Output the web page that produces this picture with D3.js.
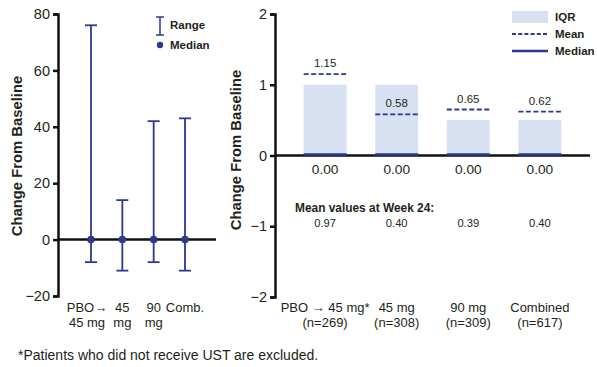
<!DOCTYPE html>
<html>
<head>
<meta charset="utf-8">
<script src="https://cdn.jsdelivr.net/npm/d3@7"></script>
<style>
  body { margin: 0; background: #fff; }
  svg { font-family: "Liberation Sans", Arial, sans-serif; }
</style>
</head>
<body>
<svg id="chart" width="597" height="367"></svg>
<script>
// left panel: range / median
const leftCats = ["PBO\u2192|45 mg", "45|mg", "90|mg", "Comb."];
const rangeMax = [76, 14, 42, 43];
const rangeMin = [-8, -11, -8, -11];
const leftMedian = [0, 0, 0, 0];
const leftTicks = [-20, 0, 20, 40, 60, 80];

// right panel: IQR / mean / median
const rightCats = ["PBO \u2192 45 mg*", "45 mg", "90 mg", "Combined"];
const rightN = ["(n=269)", "(n=308)", "(n=309)", "(n=617)"];
const iqrLow = [0, 0, 0, 0];
const iqrHigh = [1, 1, 0.5, 0.5];
const meanVals = [1.15, 0.58, 0.65, 0.62];
const medianVals = [0, 0, 0, 0];
const week24Means = [0.97, 0.40, 0.39, 0.40];
const rightTicks = [-2, -1, 0, 1, 2];

const navy = "#2b3990";
const iqrFill = "#d7e1f2";
const textCol = "#231f20";

const svg = d3.select("#chart");

// ---------- left panel ----------
const yL = d3.scaleLinear().domain([-20, 80]).range([296, 14]);
const xL = d3.scalePoint().domain(leftCats).range([91, 185]);

const gL = svg.append("g");
const axL = gL.append("g")
  .attr("transform", "translate(58,0)")
  .call(d3.axisLeft(yL).tickValues(leftTicks).tickSize(5).tickPadding(3)
    .tickFormat(d => d < 0 ? "\u2212" + Math.abs(d) : d));
axL.select(".domain").attr("stroke", "#111").attr("stroke-width", 2.5);
axL.selectAll(".tick line").attr("stroke", "#111").attr("stroke-width", 2.5);
axL.selectAll(".tick text").attr("font-size", 14.5).attr("fill", textCol)
  .attr("font-family", "Liberation Sans, Arial, sans-serif");

// zero line
gL.append("line")
  .attr("x1", 58).attr("x2", 216)
  .attr("y1", yL(0)).attr("y2", yL(0))
  .attr("stroke", "#111").attr("stroke-width", 2.5);

leftCats.forEach((c, i) => {
  const x = xL(c);
  gL.append("line").attr("x1", x).attr("x2", x)
    .attr("y1", yL(rangeMax[i])).attr("y2", yL(rangeMin[i]))
    .attr("stroke", navy).attr("stroke-width", 1.8);
  [rangeMax[i], rangeMin[i]].forEach(v => {
    gL.append("line").attr("x1", x - 6).attr("x2", x + 6)
      .attr("y1", yL(v)).attr("y2", yL(v))
      .attr("stroke", navy).attr("stroke-width", 1.8);
  });
  gL.append("circle").attr("cx", x).attr("cy", yL(leftMedian[i])).attr("r", 3.8)
    .attr("fill", navy);
  const parts = c.split("|");
  parts.forEach((p, j) => {
    gL.append("text").attr("x", x - (i === 0 ? 4 : 0)).attr("y", 312 + j * 15)
      .attr("text-anchor", "middle").attr("font-size", 13).attr("fill", textCol)
      .text(p);
  });
});

gL.append("text")
  .attr("transform", "translate(22,156) rotate(-90)")
  .attr("text-anchor", "middle").attr("font-size", 14.8).attr("font-weight", "bold")
  .attr("fill", textCol).text("Change From Baseline");

// left legend
gL.append("line").attr("x1", 160).attr("x2", 160).attr("y1", 17).attr("y2", 35)
  .attr("stroke", navy).attr("stroke-width", 1.5);
[17, 35].forEach(y => gL.append("line").attr("x1", 156).attr("x2", 164)
  .attr("y1", y).attr("y2", y).attr("stroke", navy).attr("stroke-width", 1.5));
gL.append("circle").attr("cx", 160).attr("cy", 45).attr("r", 3.2).attr("fill", navy);
gL.append("text").attr("x", 170).attr("y", 29).attr("font-size", 11.5)
  .attr("font-weight", "bold").attr("fill", textCol).text("Range");
gL.append("text").attr("x", 170).attr("y", 49).attr("font-size", 11.5)
  .attr("font-weight", "bold").attr("fill", textCol).text("Median");

// ---------- right panel ----------
const yR = d3.scaleLinear().domain([-2, 2]).range([297, 14]);
const xR = d3.scaleBand().domain(rightCats).range([275, 590])
  .paddingInner(0.4).paddingOuter(0.4);
const bw = xR.bandwidth();

const gR = svg.append("g");

gR.selectAll(".iqr").data(rightCats).enter().append("rect")
  .attr("class", "iqr")
  .attr("x", d => xR(d))
  .attr("y", (d, i) => yR(iqrHigh[i]))
  .attr("width", bw)
  .attr("height", (d, i) => yR(iqrLow[i]) - yR(iqrHigh[i]))
  .attr("fill", iqrFill);

const axR = gR.append("g")
  .attr("transform", "translate(275,0)")
  .call(d3.axisLeft(yR).tickValues(rightTicks).tickSize(5).tickPadding(3)
    .tickFormat(d => d < 0 ? "\u2212" + Math.abs(d) : d));
axR.select(".domain").attr("stroke", "#111").attr("stroke-width", 2.5);
axR.selectAll(".tick line").attr("stroke", "#111").attr("stroke-width", 2.5);
axR.selectAll(".tick text").attr("font-size", 14.5).attr("fill", textCol)
  .attr("font-family", "Liberation Sans, Arial, sans-serif");

gR.append("line")
  .attr("x1", 275).attr("x2", 590)
  .attr("y1", yR(0)).attr("y2", yR(0))
  .attr("stroke", "#111").attr("stroke-width", 2.5);

rightCats.forEach((c, i) => {
  const x0 = xR(c), xc = x0 + bw / 2;
  // median
  gR.append("line").attr("x1", x0).attr("x2", x0 + bw)
    .attr("y1", yR(medianVals[i]) - 1).attr("y2", yR(medianVals[i]) - 1)
    .attr("stroke", navy).attr("stroke-width", 2.5);
  // mean
  gR.append("line").attr("x1", x0).attr("x2", x0 + bw + 1)
    .attr("y1", yR(meanVals[i])).attr("y2", yR(meanVals[i]))
    .attr("stroke", navy).attr("stroke-width", 1.8).attr("stroke-dasharray", "5,2.5");
  gR.append("text").attr("x", xc).attr("y", yR(meanVals[i]) - 7)
    .attr("text-anchor", "middle").attr("font-size", 11.5).attr("fill", textCol)
    .text(meanVals[i].toFixed(2));
  gR.append("text").attr("x", xc).attr("y", yR(medianVals[i]) + 18)
    .attr("text-anchor", "middle").attr("font-size", 13.7).attr("fill", textCol)
    .text(medianVals[i].toFixed(2));
  gR.append("text").attr("x", xc).attr("y", 227)
    .attr("text-anchor", "middle").attr("font-size", 11.2).attr("fill", textCol)
    .text(week24Means[i].toFixed(2));
  gR.append("text").attr("x", xc).attr("y", 312)
    .attr("text-anchor", "middle").attr("font-size", 13).attr("fill", textCol)
    .text(c);
  gR.append("text").attr("x", xc).attr("y", 327)
    .attr("text-anchor", "middle").attr("font-size", 13).attr("fill", textCol)
    .text(rightN[i]);
});

gR.append("text").attr("x", 295).attr("y", 212)
  .attr("font-size", 11.9).attr("font-weight", "bold").attr("fill", textCol)
  .text("Mean values at Week 24:");

gR.append("text")
  .attr("transform", "translate(241,150) rotate(-90)")
  .attr("text-anchor", "middle").attr("font-size", 14.8).attr("font-weight", "bold")
  .attr("fill", textCol).text("Change From Baseline");

// right legend
gR.append("rect").attr("x", 512).attr("y", 11).attr("width", 36).attr("height", 12)
  .attr("fill", iqrFill);
gR.append("line").attr("x1", 512).attr("x2", 548).attr("y1", 34).attr("y2", 34)
  .attr("stroke", navy).attr("stroke-width", 1.8).attr("stroke-dasharray", "4,2.2");
gR.append("line").attr("x1", 512).attr("x2", 548).attr("y1", 51).attr("y2", 51)
  .attr("stroke", navy).attr("stroke-width", 2.5);
[["IQR", 21], ["Mean", 38], ["Median", 55]].forEach(([t, y]) => {
  gR.append("text").attr("x", 555).attr("y", y).attr("font-size", 11.5)
    .attr("font-weight", "bold").attr("fill", textCol).text(t);
});

// footnote
svg.append("text").attr("x", 18).attr("y", 360).attr("font-size", 14)
  .attr("fill", textCol).text("*Patients who did not receive UST are excluded.");
</script>
</body>
</html>
